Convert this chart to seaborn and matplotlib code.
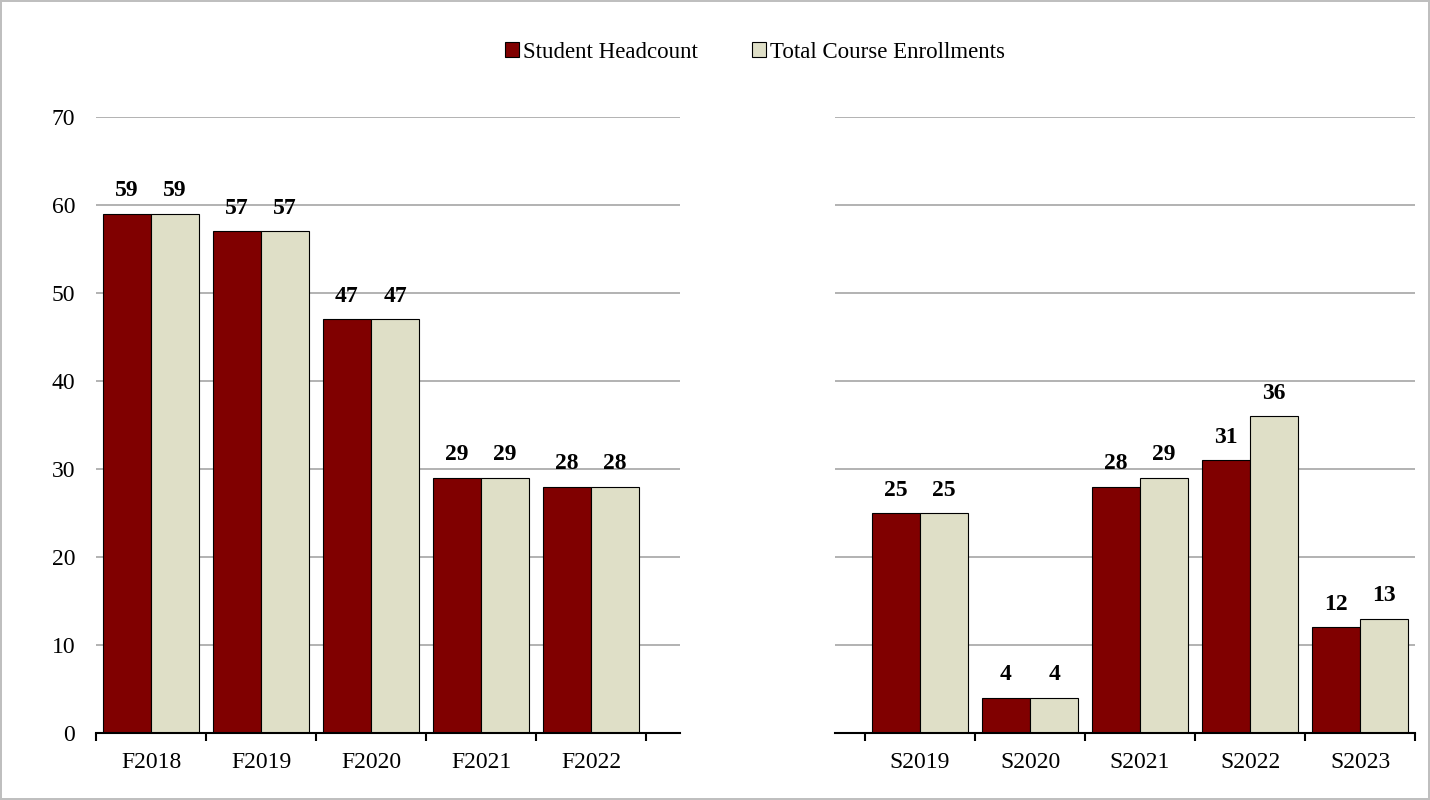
import matplotlib
matplotlib.use("Agg")
import matplotlib.pyplot as plt
import seaborn as sns
import pandas as pd
from matplotlib.patches import Patch

fall_terms = ["F2018", "F2019", "F2020", "F2021", "F2022"]
fall_headcount = [59, 57, 47, 29, 28]
fall_enroll = [59, 57, 47, 29, 28]

spring_terms = ["S2019", "S2020", "S2021", "S2022", "S2023"]
spring_headcount = [25, 4, 28, 31, 12]
spring_enroll = [25, 4, 29, 36, 13]

series_names = ["Student Headcount", "Total Course Enrollments"]
colors = ["#800000", "#DFDFC7"]
yticks = [0, 10, 20, 30, 40, 50, 60, 70]

sns.set_style("white")
plt.rcParams["font.family"] = ["Liberation Serif", "DejaVu Serif"]
plt.rcParams["text.color"] = "black"
plt.rcParams["xtick.color"] = "black"
plt.rcParams["ytick.color"] = "black"
plt.rcParams["xtick.labelcolor"] = "black"
plt.rcParams["ytick.labelcolor"] = "black"

def make_df(terms, a, b):
    return pd.DataFrame({
        "term": terms * 2,
        "series": [series_names[0]] * len(terms) + [series_names[1]] * len(terms),
        "value": list(a) + list(b),
    })

fig = plt.figure(figsize=(14.3, 8), dpi=100)
fig.patch.set_edgecolor("#BFBFBF")
fig.patch.set_linewidth(1.5)

ax1 = fig.add_axes([96/1430, 1-733/800, (680-96)/1430, (733-117)/800])
ax2 = fig.add_axes([835/1430, 1-733/800, (1415-835)/1430, (733-117)/800])

panels = [
    (ax1, make_df(fall_terms, fall_headcount, fall_enroll), fall_terms, (-0.5, 4.5 + 34/110), True),
    (ax2, make_df(spring_terms, spring_headcount, spring_enroll), spring_terms, (-0.5 - 30/110, 4.5), False),
]

for ax, df, terms, xl, show_y in panels:
    sns.barplot(data=df, x="term", y="value", hue="series", order=terms,
                hue_order=series_names, palette=colors, saturation=1, width=0.88,
                edgecolor="black", linewidth=0.8, ax=ax, legend=False, zorder=3)
    for c in ax.containers:
        ax.bar_label(c, fmt="%d", padding=9, fontsize=17, fontweight="bold", color="black")
    ax.set_ylim(0, 70)
    ax.set_xlim(*xl)
    ax.set_yticks(yticks)
    ax.yaxis.grid(True, color="#A6A6A6", linewidth=1.2, zorder=0)
    ax.set_axisbelow(True)
    for s in ["top", "right", "left"]:
        ax.spines[s].set_visible(False)
    ax.spines["bottom"].set_color("black")
    ax.spines["bottom"].set_linewidth(1.5)
    ax.spines["bottom"].set_zorder(5)
    ax.set_xticks([i - 0.5 for i in range(len(terms) + 1)])
    ax.set_xticklabels([])
    ax.set_xticks(list(range(len(terms))), minor=True)
    ax.set_xticklabels(terms, minor=True, fontsize=17, color="black")
    ax.tick_params(axis="x", which="major", direction="out", length=6, width=1.5, color="black", bottom=True)
    ax.tick_params(axis="x", which="minor", length=0, pad=14)
    ax.tick_params(axis="y", length=0, labelsize=17, pad=15, labelcolor="black")
    if not show_y:
        ax.set_yticklabels([])
    ax.set_xlabel("")
    ax.set_ylabel("")

handles = [Patch(facecolor=colors[i], edgecolor="black", linewidth=0.8, label=series_names[i]) for i in range(2)]
leg = fig.legend(handles=handles, loc="center", bbox_to_anchor=(755/1430, 1-52/800), ncol=2,
                 frameon=False, fontsize=16.5, handlelength=0.6, handleheight=0.6,
                 handletextpad=0.15, columnspacing=2.4)
for t in leg.get_texts():
    t.set_color("black")

fig.savefig("out.png", dpi=100, edgecolor=fig.get_edgecolor())
